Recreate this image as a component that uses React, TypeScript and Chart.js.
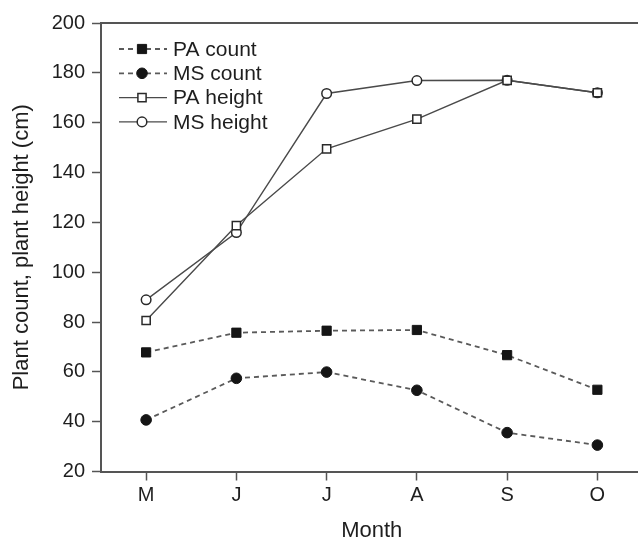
import React, { useEffect, useRef } from "react";
import { Chart, registerables } from "chart.js";

Chart.register(...registerables);

const months = ["M", "J", "J", "A", "S", "O"];
const paCount = [67.8, 75.7, 76.5, 76.8, 66.7, 52.8];
const msCount = [40.7, 57.4, 59.9, 52.6, 35.6, 30.6];
const paHeight = [80.6, 118.7, 149.5, 161.4, 177, 172];
const msHeight = [88.9, 115.9, 171.7, 176.9, 177, 172];
const yMin = 20;
const yMax = 200;
const yStep = 20;

const FONT = "'Liberation Sans', Arial, sans-serif";

const frameTop = {
  id: "frameTop",
  afterDraw(chart: any) {
    const { ctx, chartArea } = chart;
    ctx.save();
    ctx.strokeStyle = "#555";
    ctx.lineWidth = 2;
    ctx.beginPath();
    ctx.moveTo(chartArea.left, chartArea.top);
    ctx.lineTo(chartArea.right, chartArea.top);
    ctx.stroke();
    ctx.restore();
  },
};

const insideLegend = {
  id: "insideLegend",
  afterDraw(chart: any) {
    const { ctx, chartArea } = chart;
    ctx.save();
    chart.data.datasets.forEach((ds: any, i: number) => {
      const y = chartArea.top + 26 + i * 24.3;
      const x0 = chartArea.left + 18;
      const x1 = chartArea.left + 66;
      const xm = chartArea.left + 41;
      ctx.strokeStyle = ds.borderColor;
      ctx.lineWidth = ds.borderWidth;
      ctx.setLineDash(ds.borderDash || []);
      ctx.beginPath();
      ctx.moveTo(x0, y);
      ctx.lineTo(x1, y);
      ctx.stroke();
      ctx.setLineDash([]);
      ctx.fillStyle = ds.pointBackgroundColor;
      ctx.strokeStyle = ds.pointBorderColor;
      ctx.lineWidth = ds.pointBorderWidth;
      const r = ds.pointRadius;
      ctx.beginPath();
      if (ds.pointStyle === "rect") {
        const s = Math.SQRT1_2 * r;
        ctx.rect(xm - s, y - s, 2 * s, 2 * s);
      } else {
        ctx.arc(xm, y, r, 0, Math.PI * 2);
      }
      ctx.fill();
      ctx.stroke();
      ctx.fillStyle = "#1e1e1e";
      ctx.font = `21px ${FONT}`;
      ctx.textBaseline = "middle";
      ctx.textAlign = "left";
      ctx.fillText(ds.label, chartArea.left + 72, y + 1);
    });
    ctx.restore();
  },
};

export default function App() {
  const ref = useRef<HTMLCanvasElement | null>(null);

  useEffect(() => {
    if (!ref.current) return;
    const dashed = [5, 4];
    const chart = new Chart(ref.current, {
      type: "line",
      data: {
        labels: months,
        datasets: [
          {
            label: "PA count",
            data: paCount,
            borderColor: "#5a5a5a",
            borderWidth: 1.8,
            borderDash: dashed,
            pointStyle: "rect",
            pointRadius: 6.5,
            pointBackgroundColor: "#151515",
            pointBorderColor: "#151515",
            pointBorderWidth: 1,
            tension: 0,
          },
          {
            label: "MS count",
            data: msCount,
            borderColor: "#5a5a5a",
            borderWidth: 1.8,
            borderDash: dashed,
            pointStyle: "circle",
            pointRadius: 5.3,
            pointBackgroundColor: "#151515",
            pointBorderColor: "#151515",
            pointBorderWidth: 1,
            tension: 0,
          },
          {
            label: "PA height",
            data: paHeight,
            borderColor: "#4a4a4a",
            borderWidth: 1.4,
            pointStyle: "rect",
            pointRadius: 5.8,
            pointBackgroundColor: "#fff",
            pointBorderColor: "#2a2a2a",
            pointBorderWidth: 1.5,
            tension: 0,
          },
          {
            label: "MS height",
            data: msHeight,
            borderColor: "#4a4a4a",
            borderWidth: 1.4,
            pointStyle: "circle",
            pointRadius: 4.8,
            pointBackgroundColor: "#fff",
            pointBorderColor: "#2a2a2a",
            pointBorderWidth: 1.5,
            tension: 0,
          },
        ],
      },
      options: {
        animation: false,
        responsive: false,
        devicePixelRatio: 1,
        layout: { padding: { left: 0, top: 23, right: 0, bottom: 0 } },
        plugins: {
          legend: { display: false },
          tooltip: { enabled: false },
        },
        scales: {
          x: {
            type: "category",
            offset: true,
            afterFit(scale: any) {
              scale.height = 68.5;
            },
            grid: {
              display: true,
              drawOnChartArea: false,
              drawTicks: true,
              tickLength: 9,
              tickColor: "#555",
              tickWidth: 1.5,
              offset: false,
            },
            border: { display: true, color: "#555", width: 2 },
            ticks: {
              color: "#1e1e1e",
              font: { family: FONT, size: 20 },
              padding: 3,
              maxRotation: 0,
              autoSkip: false,
            },
            title: {
              display: true,
              text: "Month",
              color: "#1e1e1e",
              font: { family: FONT, size: 22 },
              padding: { top: 0, bottom: -4 },
            },
          },
          y: {
            type: "linear",
            min: yMin,
            max: yMax,
            afterFit(scale: any) {
              scale.width = 101;
            },
            grid: {
              display: true,
              drawOnChartArea: false,
              drawTicks: true,
              tickLength: 9,
              tickColor: "#555",
              tickWidth: 1.5,
            },
            border: { display: true, color: "#555", width: 2 },
            ticks: {
              stepSize: yStep,
              color: "#1e1e1e",
              font: { family: FONT, size: 20 },
              padding: 7,
            },
            title: {
              display: true,
              text: "Plant count, plant height (cm)",
              color: "#1e1e1e",
              font: { family: FONT, size: 22 },
              padding: { top: 9, bottom: 0 },
            },
          },
        },
      },
      plugins: [frameTop, insideLegend],
    } as any);
    return () => chart.destroy();
  }, []);

  return (
    <div
      style={{
        position: "fixed",
        left: 0,
        top: 0,
        width: 638,
        height: 540,
        overflow: "hidden",
        background: "#fff",
      }}
    >
      <canvas ref={ref} width={650} height={540} style={{ display: "block" }} />
    </div>
  );
}
